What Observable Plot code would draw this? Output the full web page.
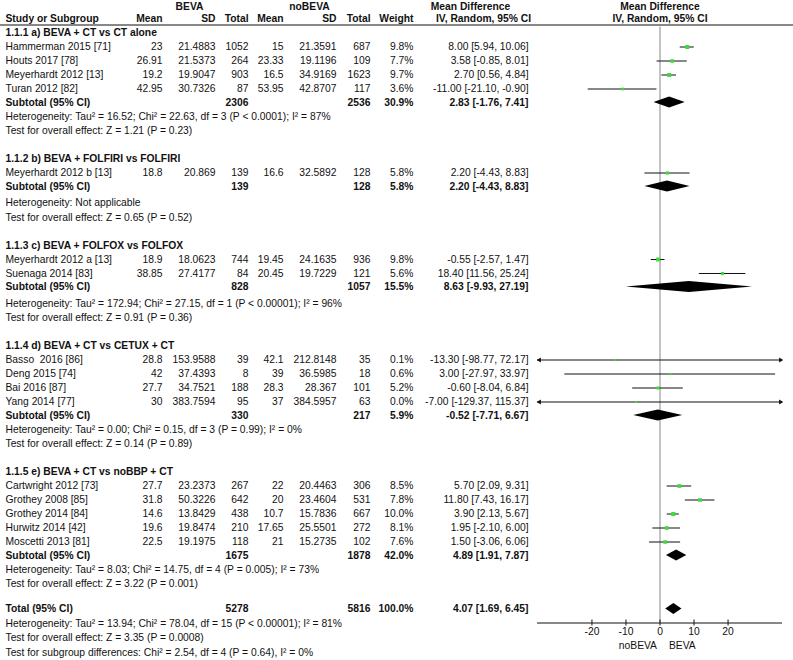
<!DOCTYPE html>
<html><head><meta charset="utf-8">
<script src="https://cdn.jsdelivr.net/npm/d3@7"></script>
<script src="https://cdn.jsdelivr.net/npm/@observablehq/plot@0.6"></script>
<style>body{margin:0;background:#fff}</style>
</head><body><div id="chart"></div>
<script>
// ---------------- DATA ----------------
const groupTitles = [
  "1.1.1 a) BEVA + CT vs CT alone",
  "1.1.2 b) BEVA + FOLFIRI vs FOLFIRI",
  "1.1.3 c) BEVA + FOLFOX vs FOLFOX",
  "1.1.4 d) BEVA + CT vs CETUX + CT",
  "1.1.5 e) BEVA + CT vs noBBP + CT"
];
const studyNames = [
  "Hammerman 2015 [71]", "Houts 2017 [78]", "Meyerhardt 2012 [13]", "Turan 2012 [82]",
  "Meyerhardt 2012 b [13]",
  "Meyerhardt 2012 a [13]", "Suenaga 2014 [83]",
  "Basso  2016 [86]", "Deng 2015 [74]", "Bai 2016 [87]", "Yang 2014 [77]",
  "Cartwright 2012 [73]", "Grothey 2008 [85]", "Grothey 2014 [84]", "Hurwitz 2014 [42]", "Moscetti 2013 [81]"
];
const studyGroup = [0,0,0,0, 1, 2,2, 3,3,3,3, 4,4,4,4,4];
const bevaMean  = [23, 26.91, 19.2, 42.95, 18.8, 18.9, 38.85, 28.8, 42, 27.7, 30, 27.7, 31.8, 14.6, 19.6, 22.5];
const bevaSD    = [21.4883, 21.5373, 19.9047, 30.7326, 20.869, 18.0623, 27.4177, 153.9588, 37.4393, 34.7521, 383.7594, 23.2373, 50.3226, 13.8429, 19.8474, 19.1975];
const bevaTotal = [1052, 264, 903, 87, 139, 744, 84, 39, 8, 188, 95, 267, 642, 438, 210, 118];
const noMean    = [15, 23.33, 16.5, 53.95, 16.6, 19.45, 20.45, 42.1, 39, 28.3, 37, 22, 20, 10.7, 17.65, 21];
const noSD      = [21.3591, 19.1196, 34.9169, 42.8707, 32.5892, 24.1635, 19.7229, 212.8148, 36.5985, 28.367, 384.5957, 20.4463, 23.4604, 15.7836, 25.5501, 15.2735];
const noTotal   = [687, 109, 1623, 117, 128, 936, 121, 35, 18, 101, 63, 306, 531, 667, 272, 102];
const weight    = [9.8, 7.7, 9.7, 3.6, 5.8, 9.8, 5.6, 0.1, 0.6, 5.2, 0.0, 8.5, 7.8, 10.0, 8.1, 7.6];
const md        = [8.00, 3.58, 2.70, -11.00, 2.20, -0.55, 18.40, -13.30, 3.00, -0.60, -7.00, 5.70, 11.80, 3.90, 1.95, 1.50];
const ciLo      = [5.94, -0.85, 0.56, -21.10, -4.43, -2.57, 11.56, -98.77, -27.97, -8.04, -129.37, 2.09, 7.43, 2.13, -2.10, -3.06];
const ciHi      = [10.06, 8.01, 4.84, -0.90, 8.83, 1.47, 25.24, 72.17, 33.97, 6.84, 115.37, 9.31, 16.17, 5.67, 6.00, 6.06];

const subBevaTotal = [2306, 139, 828, 330, 1675];
const subNoTotal   = [2536, 128, 1057, 217, 1878];
const subWeight    = [30.9, 5.8, 15.5, 5.9, 42.0];
const subMD        = [2.83, 2.20, 8.63, -0.52, 4.89];
const subLo        = [-1.76, -4.43, -9.93, -7.71, 1.91];
const subHi        = [7.41, 8.83, 27.19, 6.67, 7.87];
const groupHet = [
  "Heterogeneity: Tau² = 16.52; Chi² = 22.63, df = 3 (P < 0.0001); I² = 87%",
  "Heterogeneity: Not applicable",
  "Heterogeneity: Tau² = 172.94; Chi² = 27.15, df = 1 (P < 0.00001); I² = 96%",
  "Heterogeneity: Tau² = 0.00; Chi² = 0.15, df = 3 (P = 0.99); I² = 0%",
  "Heterogeneity: Tau² = 8.03; Chi² = 14.75, df = 4 (P = 0.005); I² = 73%"
];
const groupTest = [
  "Test for overall effect: Z = 1.21 (P = 0.23)",
  "Test for overall effect: Z = 0.65 (P = 0.52)",
  "Test for overall effect: Z = 0.91 (P = 0.36)",
  "Test for overall effect: Z = 0.14 (P = 0.89)",
  "Test for overall effect: Z = 3.22 (P = 0.001)"
];
const totalBeva = 5278, totalNo = 5816, totalWeight = 100.0;
const totalMD = 4.07, totalLo = 1.69, totalHi = 6.45;
const totalNotes = [
  "Heterogeneity: Tau² = 13.94; Chi² = 78.04, df = 15 (P < 0.00001); I² = 81%",
  "Test for overall effect: Z = 3.35 (P = 0.0008)",
  "Test for subgroup differences: Chi² = 2.54, df = 4 (P = 0.64), I² = 0%"
];
const headerCols = ["Study or Subgroup", "Mean", "SD", "Total", "Mean", "SD", "Total", "Weight"];
const spanHeaders = ["BEVA", "noBEVA", "Mean Difference", "IV, Random, 95% CI"];
const plotHeaders = ["Mean Difference", "IV, Random, 95% CI"];
const tickValues = [-20, -10, 0, 10, 20];
const favourLabels = ["noBEVA", "BEVA"];
const xDomain = [-36, 36];

// ---------------- LAYOUT ----------------
const W = 793, H = 660;
const ML = 537, MR = 11;
const axisY = 622.5, lineY = 24.5;
const FONT = "Liberation Sans, Arial, Helvetica, sans-serif";
const FS = 10.3;
const L = {groupStart: 32.5, firstStudy: 14, studyStep: 14, subtotal: 13.5,
           het: [14, 16.5, 16.5, 14, 14], test: 14.5, nextGroup: 28,
           total: 25, totalNote: 14.5, headTop: 6.5, headRow: 18, diamondH: 5.5};
const columns = [
  {key: "study", x: 5, anchor: "start"},
  {key: "m1", x: 162, anchor: "end"},
  {key: "sd1", x: 215, anchor: "end"},
  {key: "n1", x: 248, anchor: "end"},
  {key: "m2", x: 283, anchor: "end"},
  {key: "sd2", x: 336, anchor: "end"},
  {key: "n2", x: 370, anchor: "end"},
  {key: "w", x: 413, anchor: "end"},
  {key: "md", x: 528, anchor: "end"}
];
const spanX = [189, 309, 470, 483];
const spanY = [L.headTop, L.headTop, L.headTop, L.headRow];

const f2 = v => v.toFixed(2);
const ciText = (m, lo, hi) => `${f2(m)} [${f2(lo)}, ${f2(hi)}]`;
const wText = v => v.toFixed(1) + "%";

// build rows
const cells = [];
const studyRows = [];
const diamonds = [];
headerCols.forEach((t, k) => cells.push({y: L.headRow, col: columns[k].key, text: t, bold: true}));
let y = L.groupStart;
groupTitles.forEach((title, g) => {
  if (g > 0) y += L.nextGroup;
  cells.push({y, col: "study", text: title, bold: true});
  let first = true;
  studyNames.forEach((name, i) => {
    if (studyGroup[i] !== g) return;
    y += first ? L.firstStudy : L.studyStep; first = false;
    studyRows.push({y, i});
    const vals = {study: name, m1: String(bevaMean[i]), sd1: String(bevaSD[i]), n1: String(bevaTotal[i]),
      m2: String(noMean[i]), sd2: String(noSD[i]), n2: String(noTotal[i]), w: wText(weight[i]),
      md: ciText(md[i], ciLo[i], ciHi[i])};
    for (const k in vals) cells.push({y, col: k, text: vals[k], bold: false});
  });
  y += L.subtotal;
  const sv = {study: "Subtotal (95% CI)", n1: String(subBevaTotal[g]), n2: String(subNoTotal[g]),
    w: wText(subWeight[g]), md: ciText(subMD[g], subLo[g], subHi[g])};
  for (const k in sv) cells.push({y, col: k, text: sv[k], bold: true});
  diamonds.push({g, y, lo: subLo[g], m: subMD[g], hi: subHi[g]});
  y += L.het[g];
  cells.push({y, col: "study", text: groupHet[g], bold: false});
  y += L.test;
  cells.push({y, col: "study", text: groupTest[g], bold: false});
});
y += L.total;
{
  const tv = {study: "Total (95% CI)", n1: String(totalBeva), n2: String(totalNo),
    w: wText(totalWeight), md: ciText(totalMD, totalLo, totalHi)};
  for (const k in tv) cells.push({y, col: k, text: tv[k], bold: true});
  diamonds.push({g: 5, y, lo: totalLo, m: totalMD, hi: totalHi});
}
totalNotes.forEach(t => { y += L.totalNote; cells.push({y, col: "study", text: t, bold: false}); });

const diamondPts = diamonds.flatMap(d => [
  {g: d.g, x: d.lo, y1: d.y, y2: d.y},
  {g: d.g, x: d.m, y1: d.y - L.diamondH, y2: d.y + L.diamondH},
  {g: d.g, x: d.hi, y1: d.y, y2: d.y}
]);

const textMarks = [];
for (const c of columns) {
  for (const bold of [false, true]) {
    const data = cells.filter(d => d.col === c.key && d.bold === bold);
    if (!data.length) continue;
    textMarks.push(Plot.text(data, {y: "y", text: "text", frameAnchor: "left", dx: c.x - ML,
      textAnchor: c.anchor, fontWeight: bold ? "bold" : "normal", fontSize: FS, fill: "#111"}));
  }
}
const spanData = spanHeaders.map((t, k) => ({t, y: spanY[k], x: spanX[k]}));
spanData.forEach(d => textMarks.push(Plot.text([d], {y: "y", text: "t", frameAnchor: "left", dx: d.x - ML,
  textAnchor: "middle", fontWeight: "bold", fontSize: FS, fill: "#111"})));

const leftArrows = studyRows.filter(d => ciLo[d.i] < xDomain[0]);
const rightArrows = studyRows.filter(d => ciHi[d.i] > xDomain[1]);

const chart = Plot.plot({
  width: W, height: H,
  marginLeft: ML, marginRight: MR, marginTop: 0, marginBottom: H - axisY,
  style: {fontFamily: FONT, fontSize: "10px", background: "#fff", color: "#111"},
  x: {domain: xDomain, clamp: true},
  y: {domain: [0, axisY], range: [0, axisY], axis: null},
  r: {type: "linear", domain: [0, 10], range: [1.1, 2.3]},
  marks: [
    Plot.ruleY([lineY], {stroke: "#111", insetLeft: -ML, insetRight: -MR}),
    Plot.ruleX([0], {y1: lineY + 2, y2: axisY, stroke: "#888"}),
    Plot.ruleY(studyRows, {y: "y", x1: d => ciLo[d.i], x2: d => ciHi[d.i], stroke: "#111"}),
    Plot.dot(leftArrows, {x: d => ciLo[d.i], y: "y", symbol: "triangle2", rotate: -90, r: 2.3, fill: "#111", dx: 2}),
    Plot.dot(rightArrows, {x: d => ciHi[d.i], y: "y", symbol: "triangle2", rotate: 90, r: 2.3, fill: "#111", dx: -2}),
    Plot.dot(studyRows, {x: d => md[d.i], y: "y", symbol: "square", r: d => weight[d.i], fill: "#3ddc3a"}),
    Plot.area(diamondPts, {x1: "x", y1: "y1", y2: "y2", z: "g", fill: "#000", curve: "linear"}),
    Plot.ruleY([axisY], {stroke: "#111"}),
    Plot.ruleX(tickValues, {y1: axisY - 3, y2: axisY, stroke: "#111"}),
    Plot.axisX({ticks: tickValues, tickSize: 3, tickPadding: 2, label: null, tickFormat: d => String(d), fontSize: 10.3}),
    Plot.text(plotHeaders.map((t, k) => ({t, y: k ? L.headRow : L.headTop})),
      {x: () => 0, y: "y", text: "t", fontWeight: "bold", fontSize: FS, fill: "#111"}),
    Plot.text([favourLabels[0]], {x: () => 0, y: () => axisY + 23, text: d => d, textAnchor: "end", dx: -3, fontSize: FS, fill: "#111"}),
    Plot.text([favourLabels[1]], {x: () => 0, y: () => axisY + 23, text: d => d, textAnchor: "start", dx: 9, fontSize: FS, fill: "#111"}),
    ...textMarks
  ]
});
document.getElementById("chart").append(chart);
</script>
</body></html>
